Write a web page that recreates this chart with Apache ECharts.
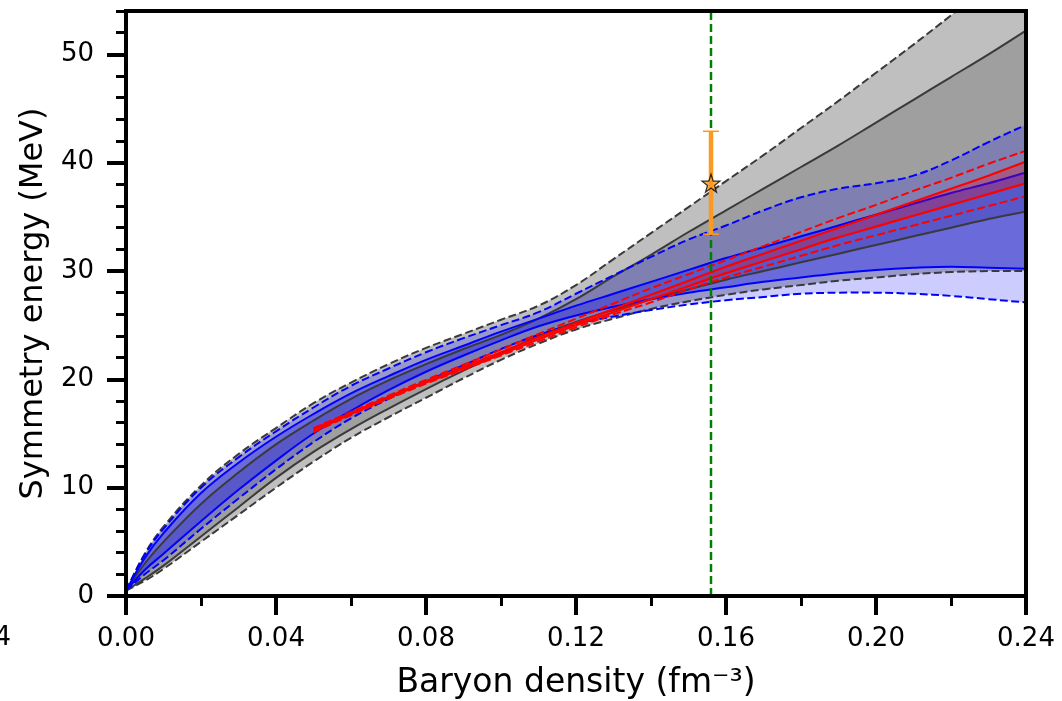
<!DOCTYPE html>
<html><head><meta charset="utf-8">
<script src="https://cdn.jsdelivr.net/npm/echarts@6/dist/echarts.min.js"></script>
<style>html,body{margin:0;padding:0;background:#fff}#chart{width:1062px;height:701px}</style>
</head><body><div id="chart"></div>
<script>
// ---------------- data ----------------
const X   = [0, 0.005, 0.01, 0.02, 0.03, 0.04, 0.05, 0.06, 0.07, 0.08, 0.09, 0.10, 0.11, 0.12, 0.13, 0.14, 0.15, 0.16, 0.17, 0.18, 0.19, 0.20, 0.21, 0.22, 0.23, 0.24];
// outer grey band (black dashed edges)
const GU  = [0.5, 3.9, 6.4, 10.2, 13.1, 15.5, 17.8, 19.7, 21.4, 22.9, 24.2, 25.5, 26.8, 28.7, 31.1, 33.5, 35.9, 38.3, 40.7, 43.2, 45.7, 48.3, 50.9, 53.6, 56.4, 59.3];
const GL  = [0.5, 1.4, 2.5, 5.0, 7.5, 10.0, 12.4, 14.6, 16.5, 18.3, 20.1, 21.8, 23.3, 24.6, 25.6, 26.5, 27.2, 27.8, 28.3, 28.7, 29.1, 29.4, 29.7, 29.9, 30.0, 30.0];
// inner grey band (black solid edges)
const KU  = [0.5, 3.0, 5.0, 8.5, 11.4, 14.0, 16.2, 18.2, 19.9, 21.4, 22.8, 24.1, 25.6, 27.4, 29.5, 31.5, 33.6, 35.6, 37.6, 39.6, 41.6, 43.7, 45.8, 47.9, 50.0, 52.2];
const KL  = [0.5, 1.6, 2.8, 5.5, 8.2, 10.9, 13.3, 15.4, 17.3, 19.1, 20.8, 22.4, 24.0, 25.3, 26.4, 27.4, 28.3, 29.2, 30.0, 30.8, 31.6, 32.4, 33.2, 34.0, 34.8, 35.5];
// outer blue band (blue dashed edges)
const BDU = [0.5, 3.8, 6.2, 10.0, 12.8, 15.2, 17.4, 19.4, 21.0, 22.5, 23.8, 25.0, 26.2, 27.9, 29.6, 31.3, 32.9, 34.2, 35.6, 36.8, 37.6, 38.1, 38.8, 40.2, 41.9, 43.5];
const BDL = [0.5, 2.0, 3.3, 6.2, 9.0, 11.7, 14.2, 16.4, 18.2, 19.8, 21.3, 22.8, 24.1, 25.1, 25.8, 26.4, 26.9, 27.3, 27.6, 27.9, 28.0, 28.0, 27.9, 27.7, 27.4, 27.1];
// inner blue band (blue solid edges)
const BSU = [0.5, 3.5, 5.8, 9.5, 12.3, 14.7, 16.8, 18.7, 20.3, 21.8, 23.1, 24.4, 25.6, 26.8, 27.9, 29.0, 30.1, 31.2, 32.2, 33.2, 34.2, 35.2, 36.2, 37.2, 38.1, 39.1];
const BSL = [0.5, 2.4, 3.9, 6.9, 9.8, 12.5, 15.0, 17.1, 19.0, 20.7, 22.2, 23.6, 24.9, 25.9, 26.7, 27.4, 28.0, 28.5, 29.0, 29.4, 29.8, 30.1, 30.3, 30.4, 30.3, 30.2];
// red constraint
const XR  = [0.05, 0.06, 0.07, 0.08, 0.09, 0.10, 0.11, 0.12, 0.13, 0.14, 0.15, 0.16, 0.17, 0.18, 0.19, 0.20, 0.21, 0.22, 0.23, 0.24];
const RDU = [15.5, 17.0, 18.5, 19.95, 21.35, 22.75, 24.2, 25.6, 27.0, 28.4, 29.7, 31.0, 32.3, 33.6, 34.9, 36.1, 37.4, 38.6, 39.9, 41.1];
const RU  = [15.4, 16.9, 18.4, 19.8, 21.15, 22.5, 23.9, 25.2, 26.5, 27.8, 29.1, 30.4, 31.6, 32.8, 34.0, 35.2, 36.4, 37.6, 38.8, 40.1];
const RL  = [15.2, 16.8, 18.3, 19.7, 21.0, 22.3, 23.7, 25.0, 26.2, 27.4, 28.6, 29.8, 30.9, 32.0, 33.1, 34.1, 35.1, 36.1, 37.1, 38.1];
const RDL = [15.1, 16.7, 18.2, 19.6, 20.9, 22.2, 23.5, 24.8, 26.0, 27.1, 28.3, 29.4, 30.4, 31.4, 32.4, 33.3, 34.2, 35.1, 36.0, 36.9];
// saturation density line and point with error bar
const VLINE_X = [0.156, 0.156];
const VLINE_Y = [0, 54];
const PT_X = 0.156, PT_Y = 38.1, PT_LO = 33.4, PT_HI = 42.9;
// axes
const X_MIN = 0, X_MAX = 0.24, X_STEP = 0.04;
const Y_MIN = 0, Y_MAX = 54;
const Y_TICKS = [0, 10, 20, 30, 40, 50];

// ---------------- styles ----------------
const FONT = 'DejaVu Sans';
const SMOOTH = 0.4;
const BLACKLINE = '#3a3a3a';
const ORANGE = '#fb9a22';
const DASH = [8, 3.5];
const STAR = 'path://M50,0 L61.8,35.1 L98.1,35.1 L68.7,56.8 L79.4,91.6 L50,70 L20.6,91.6 L31.3,56.8 L1.9,35.1 L38.2,35.1 Z';

// smooth cubic path through pixel points (same for band edges and lines)
function pathThrough(pts, s, move) {
  const n = pts.length, c0 = [], c1 = [];
  for (let i = 0; i < n; i++) {
    const p = pts[i], pr = pts[Math.max(i - 1, 0)], nx = pts[Math.min(i + 1, n - 1)];
    const vx = nx[0] - pr[0], vy = nx[1] - pr[1];
    const d0 = Math.hypot(p[0] - pr[0], p[1] - pr[1]), d1 = Math.hypot(nx[0] - p[0], nx[1] - p[1]);
    const tot = (d0 + d1) || 1;
    c0[i] = [p[0] - vx * s * d0 / tot, p[1] - vy * s * d0 / tot];
    c1[i] = [p[0] + vx * s * d1 / tot, p[1] + vy * s * d1 / tot];
  }
  let d = (move ? 'M' : 'L') + pts[0][0] + ' ' + pts[0][1];
  for (let i = 0; i < n - 1; i++) {
    d += ' C' + c1[i][0] + ' ' + c1[i][1] + ' ' + c0[i + 1][0] + ' ' + c0[i + 1][1] + ' ' + pts[i + 1][0] + ' ' + pts[i + 1][1];
  }
  return d;
}

function band(xs, lo, hi, color, z) {
  return {
    type: 'custom', z, silent: true, clip: true,
    data: xs.map((x, i) => [x, lo[i], hi[i]]),
    encode: {x: 0, y: [1, 2]},
    renderItem: function (params, api) {
      if (params.dataIndex !== 0) return null;
      const top = xs.map((x, i) => api.coord([x, hi[i]]));
      const bot = xs.map((x, i) => api.coord([x, lo[i]])).reverse();
      const d = pathThrough(top, SMOOTH, true) + ' ' + pathThrough(bot, SMOOTH, false) + ' Z';
      return {type: 'path', shape: {pathData: d}, style: {fill: color, stroke: null}};
    }
  };
}
function curve(xs, ys, color, dashed, width, z) {
  return {
    type: 'custom', z, silent: true, clip: true,
    data: xs.map((x, i) => [x, ys[i]]),
    encode: {x: 0, y: 1},
    renderItem: function (params, api) {
      if (params.dataIndex !== 0) return null;
      const pts = xs.map((x, i) => api.coord([x, ys[i]]));
      return {type: 'path', shape: {pathData: pathThrough(pts, SMOOTH, true)},
              style: {fill: null, stroke: color, lineWidth: width, lineDash: dashed ? DASH : null}};
    }
  };
}

const series = [
  band(X, GL, GU, 'rgba(128,128,128,0.5)', 2),
  band(X, KL, KU, 'rgba(128,128,128,0.5)', 2),
  band(X, BDL, BDU, 'rgba(0,0,255,0.2)', 2),
  band(X, BSL, BSU, 'rgba(0,0,255,0.3)', 2),
  curve(X, GU, BLACKLINE, true, 2, 3),
  curve(X, GL, BLACKLINE, true, 2, 3),
  curve(X, KU, BLACKLINE, false, 2, 3),
  curve(X, KL, BLACKLINE, false, 2, 3),
  curve(X, BDU, '#0000ff', true, 2, 3),
  curve(X, BDL, '#0000ff', true, 2, 3),
  curve(X, BSU, '#0000ff', false, 2, 3),
  curve(X, BSL, '#0000ff', false, 2, 3),
  band(XR, RL, RU, 'rgba(255,0,0,0.25)', 4),
  curve(XR, RDU, '#ff0000', true, 2, 5),
  curve(XR, RDL, '#ff0000', true, 2, 5),
  curve(XR, RU, '#ff0000', false, 2.2, 5),
  curve(XR, RL, '#ff0000', false, 2.2, 5),
  {type: 'line', data: VLINE_X.map((x, i) => [x, VLINE_Y[i]]), symbol: 'none', silent: true, z: 6,
   lineStyle: {color: '#008000', width: 2.5, type: [8, 4]}},
  {type: 'custom', z: 7, silent: true, data: [[PT_X, PT_Y, PT_LO, PT_HI]], encode: {x: 0, y: [1, 2, 3]},
   renderItem: function (params, api) {
     const t = api.coord([api.value(0), api.value(3)]);
     const b = api.coord([api.value(0), api.value(2)]);
     const cap = 8;
     return {type: 'group', children: [
       {type: 'line', shape: {x1: t[0], y1: t[1], x2: b[0], y2: b[1]}, style: {stroke: ORANGE, lineWidth: 4.5}},
       {type: 'line', shape: {x1: t[0] - cap, y1: t[1], x2: t[0] + cap, y2: t[1]}, style: {stroke: ORANGE, lineWidth: 1.5}},
       {type: 'line', shape: {x1: b[0] - cap, y1: b[1], x2: b[0] + cap, y2: b[1]}, style: {stroke: ORANGE, lineWidth: 1.5}}
     ]};
   }},
  {type: 'scatter', data: [[PT_X, PT_Y]], symbol: STAR, symbolSize: 18, z: 8, silent: true,
   itemStyle: {color: ORANGE, borderColor: '#000', borderWidth: 1.2}}
];

const axisLineStyle = {color: '#000', width: 4, cap: 'square'};
const labelStyle = {fontFamily: FONT, fontSize: 26, color: '#000'};

const option = {
  animation: false,
  backgroundColor: '#fff',
  grid: {left: 126, right: 36, top: 11, bottom: 105, containLabel: false, outerBoundsMode: 'none'},
  xAxis: [
    {type: 'value', position: 'bottom', min: X_MIN, max: X_MAX, interval: X_STEP, z: 10,
     axisLine: {show: true, onZero: false, lineStyle: axisLineStyle},
     axisTick: {show: true, length: 19, lineStyle: {color: '#000', width: 4}},
     minorTick: {show: true, splitNumber: 2, length: 10, lineStyle: {color: '#000', width: 3}},
     splitLine: {show: false},
     axisLabel: Object.assign({margin: 30, formatter: v => v.toFixed(2)}, labelStyle),
     name: 'Baryon density (fm\u207B\u00B3)', nameLocation: 'middle', nameGap: 71,
     nameTextStyle: {fontFamily: FONT, fontSize: 33, color: '#000'}},
    {type: 'value', position: 'top', min: X_MIN, max: X_MAX, z: 10,
     axisLine: {show: true, onZero: false, lineStyle: axisLineStyle},
     axisTick: {show: false}, axisLabel: {show: false}, splitLine: {show: false}}
  ],
  yAxis: [
    {type: 'value', position: 'left', min: Y_MIN, max: Y_MAX, interval: 10, z: 10,
     axisLine: {show: true, onZero: false, lineStyle: axisLineStyle},
     axisTick: {show: true, customValues: Y_TICKS, length: 19, lineStyle: {color: '#000', width: 4}},
     splitLine: {show: false},
     axisLabel: Object.assign({margin: 32, customValues: Y_TICKS}, labelStyle),
     name: 'Symmetry energy (MeV)', nameLocation: 'middle', nameGap: 60,
     nameTextStyle: {fontFamily: FONT, fontSize: 32, color: '#000'}},
    {type: 'value', position: 'left', min: Y_MIN, max: Y_MAX, interval: 2, z: 10,
     axisLine: {show: false}, axisLabel: {show: false}, splitLine: {show: false},
     axisTick: {show: true, length: 10, lineStyle: {color: '#000', width: 3}}},
    {type: 'value', position: 'right', min: Y_MIN, max: Y_MAX, z: 10,
     axisLine: {show: true, onZero: false, lineStyle: axisLineStyle},
     axisTick: {show: false}, axisLabel: {show: false}, splitLine: {show: false}}
  ],
  graphic: [
    {type: 'text', x: 11, y: 638, silent: true,
     style: {text: '0.24', align: 'right', verticalAlign: 'middle', fontFamily: FONT, fontSize: 26, fill: '#000'}}
  ],
  series: series
};

const chart = echarts.init(document.getElementById('chart'), null, {renderer: 'canvas'});
chart.setOption(option);
</script></body></html>
